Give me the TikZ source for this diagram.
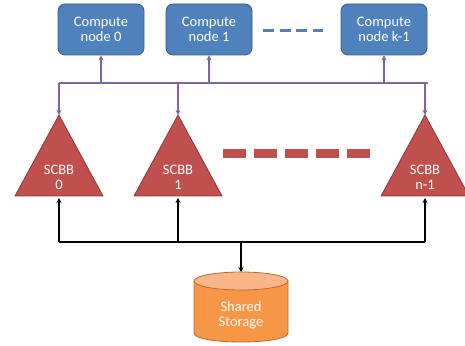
\documentclass[tikz,border=0pt]{standalone}
\usepackage{fontspec}
\setmainfont{Carlito}
\usetikzlibrary{arrows.meta}
\definecolor{boxblue}{HTML}{4F81BD}
\definecolor{boxblueline}{HTML}{385D8A}
\definecolor{scbbred}{HTML}{C0504D}
\definecolor{scbbline}{HTML}{8C3836}
\definecolor{storeorange}{HTML}{F79646}
\definecolor{storetop}{HTML}{F9B68A}
\definecolor{storeline}{HTML}{B66D31}
\definecolor{buspurple}{HTML}{8064A2}
\tikzset{
  txt/.style={text=white, align=center, font=\fontsize{14.5}{15.5}\selectfont},
  compute/.style={txt, draw=boxblueline, fill=boxblue, line width=0.8pt,
    rounded corners=7pt, minimum width=86pt, minimum height=51pt, inner sep=0pt},
  scbb/.style={draw=scbbline, fill=scbbred, line width=0.8pt},
  upbus/.style={buspurple, line width=1.3pt, -{Stealth[length=5pt,width=5pt]}},
  buswire/.style={buspurple, line width=1.3pt},
  blackbus/.style={black, line width=1.2pt},
  blackarrow/.style={black, line width=1.2pt, -{Stealth[length=5pt,width=5pt]}},
}
\begin{document}
\begin{tikzpicture}[x=1pt,y=1pt]
\useasboundingbox (0,0) rectangle (465,345);

% compute nodes
\node[compute] (c0) at (101,315.5) {Compute\\node 0};
\node[compute] (c1) at (209,315.5) {Compute\\node 1};
\node[compute] (ck) at (384,315.5) {Compute\\node k-1};
\draw[boxblue, line width=3pt, dash pattern=on 11pt off 5.5pt] (263,314) -- (323,314);

% SCBB triangles
\foreach \n/\x in {s0/59, s1/178, sn/425} {
  \coordinate (\n-apex) at (\x,230);
  \coordinate (\n-base) at (\x,149);
  \draw[scbb] (\x-44,149) -- (\x,230) -- (\x+44,149) -- cycle;
}
\node[txt] (t0) at (59,167.5) {SCBB\\0};
\node[txt] (t1) at (178,167.5) {SCBB\\1};
\node[txt] (tn) at (425,167.5) {SCBB\\n-1};
\foreach \x in {223,254,285,316,347}
  \fill[scbbred] (\x,186.5) rectangle ++(23,9);

% upper bus between compute nodes and SCBBs
\coordinate (ub0) at (59,262);
\coordinate (ub1) at (178,262);
\coordinate (ubn) at (425,262);
\coordinate (uc0) at (101,262);
\coordinate (uc1) at (209,262);
\coordinate (uck) at (384,262);
\draw[buswire] (ub0) -- (428,262);
\draw[upbus] (uc0) -- (c0.south);
\draw[upbus] (uc1) -- (c1.south);
\draw[upbus] (uck) -- (ck.south);
\draw[upbus] (ub0) -- (s0-apex);
\draw[upbus] (ub1) -- (s1-apex);
\draw[upbus] (ubn) -- (sn-apex);

% shared storage cylinder
\fill[storeorange] (194,64) -- (194,12) .. controls (194,0) and (288,0) .. (288,12) -- (288,64) -- cycle;
\draw[storeline, line width=0.8pt] (194,64) -- (194,12) .. controls (194,0) and (288,0) .. (288,12) -- (288,64);
\draw[storeline, fill=storetop, line width=0.8pt] (241,64) ellipse [x radius=47pt, y radius=9pt];
\coordinate (st) at (241,73);
\node[txt] (store) at (241,30) {Shared\\Storage};

% lower bus between storage and SCBBs
\coordinate (lb0) at (59,103);
\coordinate (lb1) at (178,103);
\coordinate (lbn) at (425,103);
\coordinate (lbs) at (241,103);
\draw[blackbus] (lb0) -- (lbn);
\draw[blackarrow] (lb0) -- ([yshift=-2pt]s0-base);
\draw[blackarrow] (lb1) -- ([yshift=-2pt]s1-base);
\draw[blackarrow] (lbn) -- ([yshift=-2pt]sn-base);
\draw[blackarrow] (lbs) -- (st);
\end{tikzpicture}
\end{document}
